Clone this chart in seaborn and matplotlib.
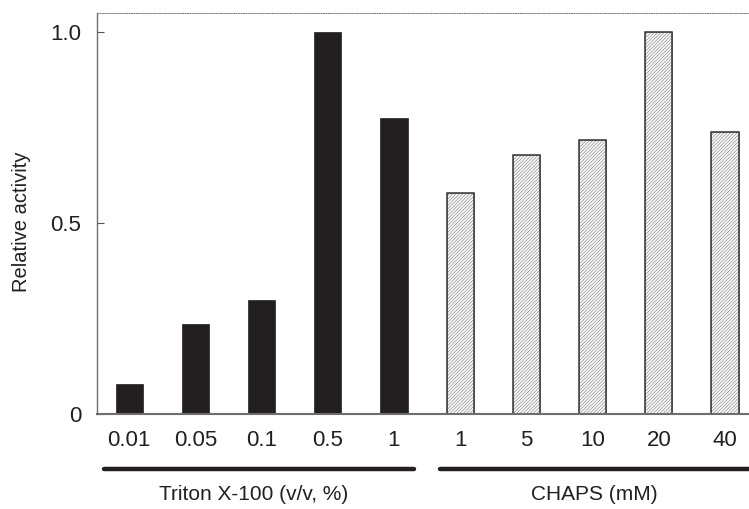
import matplotlib
matplotlib.use("Agg")
import matplotlib.pyplot as plt
import seaborn as sns
import pandas as pd
from matplotlib.lines import Line2D
from matplotlib.patches import Rectangle

# ---- data ----
triton_labels = ["0.01", "0.05", "0.1", "0.5", "1"]
triton_values = [0.077, 0.234, 0.297, 1.0, 0.775]
chaps_labels = ["1", "5", "10", "20", "40"]
chaps_values = [0.577, 0.677, 0.716, 1.0, 0.737]
group_names = ["Triton X-100 (v/v, %)", "CHAPS (mM)"]
y_ticks = [0, 0.5, 1.0]
y_tick_labels = ["0", "0.5", "1.0"]

keys = [f"T{l}" for l in triton_labels] + [f"C{l}" for l in chaps_labels]
df = pd.DataFrame({
    "key": keys,
    "value": triton_values + chaps_values,
    "group": ["Triton"] * len(triton_values) + ["CHAPS"] * len(chaps_values),
})

sns.set_theme(style="white")
plt.rcParams["font.family"] = ["Liberation Sans", "DejaVu Sans"]
plt.rcParams["hatch.linewidth"] = 0.5

fig = plt.figure(figsize=(7.49, 5.09), dpi=100)
ax = fig.add_axes([96.7 / 749, (509 - 413.7) / 509, 1 - 96.7 / 749, (413.7 - 13.3) / 509])

sns.barplot(data=df, x="key", y="value", hue="group", order=keys,
            palette={"Triton": "#231f20", "CHAPS": "white"},
            dodge=False, width=0.41, legend=False, ax=ax, saturation=1)

n_t = len(triton_values)
outlines = []
for p in list(ax.patches):
    cx = p.get_x() + p.get_width() / 2
    if cx < n_t - 0.5:
        p.set_facecolor("#231f20")
        p.set_edgecolor("#231f20")
        p.set_linewidth(0.5)
    else:
        p.set_facecolor("white")
        p.set_hatch("//////////")
        p.set_edgecolor("#8a8a8a")
        p.set_linewidth(0.5)
        outlines.append((p.get_x(), p.get_y(), p.get_width(), p.get_height()))
for (x0, y0, w, h) in outlines:
    ax.add_patch(Rectangle((x0, y0), w, h, fill=False, edgecolor="#333333",
                           linewidth=1.1, zorder=3))

ax.set_xlim(-0.49, 9.363)
ax.set_ylim(0, 1.048)

ax.set_yticks(y_ticks)
ax.set_yticklabels(y_tick_labels)
ax.set_xticks(range(len(keys)))
ax.set_xticklabels(triton_labels + chaps_labels)
ax.tick_params(axis="y", direction="in", length=5, width=0.8, color="#555555",
               labelsize=16, pad=11, left=True)
ax.tick_params(axis="x", length=0, labelsize=16, pad=12)
for t in ax.get_xticklabels() + ax.get_yticklabels():
    t.set_color("#231f20")

ax.set_xlabel("")
ax.set_ylabel("Relative activity", fontsize=14.5, color="#231f20")
ax.yaxis.set_label_coords(-0.1, 0.479)

for s in ["left", "bottom", "top", "right"]:
    ax.spines[s].set_visible(True)
ax.spines["left"].set_color("#6d6d6d")
ax.spines["left"].set_linewidth(1.0)
ax.spines["bottom"].set_color("#6d6d6d")
ax.spines["bottom"].set_linewidth(1.5)
ax.spines["bottom"].set_zorder(4)
ax.spines["top"].set_color("#777777")
ax.spines["top"].set_linewidth(0.7)
ax.spines["top"].set_linestyle((0, (1, 1.5)))
ax.spines["right"].set_visible(False)

# group underlines and labels
ly = (509 - 469) / 509
fig.add_artist(Line2D([104 / 749, 414 / 749], [ly, ly], color="#231f20", lw=3.2,
                      transform=fig.transFigure))
fig.add_artist(Line2D([440 / 749, 1.0], [ly, ly], color="#231f20", lw=3.2,
                      transform=fig.transFigure))
gy = (509 - 494) / 509
fig.text(254 / 749, gy, group_names[0], ha="center", va="center", fontsize=15, color="#231f20")
fig.text(594 / 749, gy, group_names[1], ha="center", va="center", fontsize=15, color="#231f20")

fig.savefig("out.png", dpi=100)
